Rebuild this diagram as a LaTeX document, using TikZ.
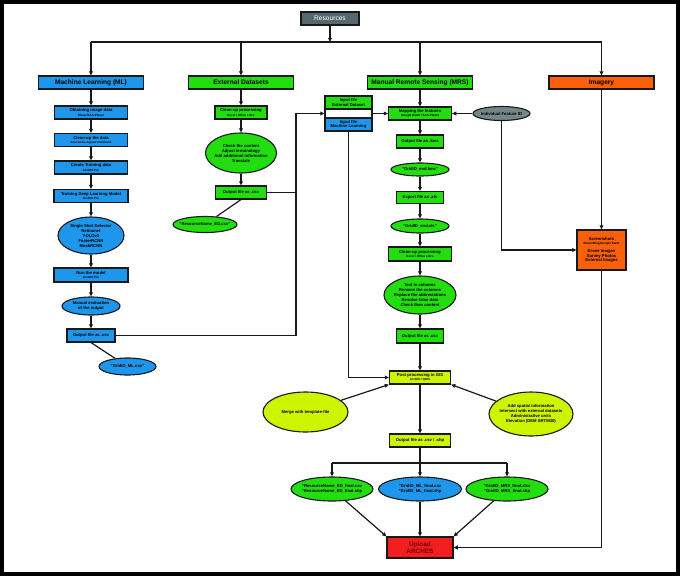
\documentclass[tikz,border=0pt]{standalone}
\usepackage{fontspec}
\setmainfont{Liberation Sans}
\usetikzlibrary{shapes.geometric,arrows.meta}
\definecolor{mlblue}{RGB}{30,150,235}
\definecolor{edgreen}{RGB}{35,222,15}
\definecolor{postyel}{RGB}{205,245,0}
\definecolor{imgorange}{RGB}{250,95,10}
\definecolor{upred}{RGB}{240,30,30}
\definecolor{upText}{RGB}{120,0,0}
\definecolor{resgray}{RGB}{85,105,108}
\definecolor{idgray}{RGB}{115,135,135}
\definecolor{linec}{RGB}{25,25,25}
\newcommand\subt[1]{\\[-0.6pt]{\fontsize{3}{3.4}\selectfont #1}}
\begin{document}
\begin{tikzpicture}[x=1pt,y=-1pt,
  base/.style={draw=linec,line width=1.1pt,inner sep=0pt,align=center,text=black},
  hdr/.style={base,rectangle,minimum width=105pt,minimum height=13pt,font=\fontsize{6.6}{7.5}\selectfont\bfseries},
  sbox/.style={base,rectangle,minimum height=13pt,font=\fontsize{4.2}{4.8}\selectfont\bfseries},
  ell/.style={base,ellipse},
  etxt/.style={inner sep=0pt,align=center,font=\fontsize{4.2}{5}\selectfont\bfseries},
  conn/.style={draw=linec,line width=1.2pt},
  arr/.style={conn,-{Triangle[length=4.2pt,width=3.8pt]}}]
\fill[black] (0,0) rectangle (680,576);
\fill[white] (4,4) rectangle (676,572);
\useasboundingbox (0,0) rectangle (680,576);

% headers
\node[base,fill=resgray,minimum width=58pt,minimum height=13pt,text=white,font=\fontsize{6.6}{7}\selectfont] (res) at (330,18.5) {Resources};
\node[hdr,fill=mlblue] (ml) at (91,82.5) {Machine Learning (ML)};
\node[hdr,fill=edgreen] (ed) at (241,82.5) {External Datasets};
\node[hdr,fill=edgreen] (mrs) at (420,82.5) {Manual Remote Sensing (MRS)};
\node[hdr,fill=imgorange] (img) at (601.5,82.5) {Imagery};

\coordinate (bus) at (330,42);
\coordinate (bML) at (91,42);
\coordinate (bED) at (241,42);
\coordinate (bMRS) at (420,42);
\coordinate (bIMG) at (601.5,42);
\draw[arr] (res) -- (bus);
\draw[conn] (bML) -- (bIMG);
\draw[arr] (bML) -- (ml);
\draw[arr] (bED) -- (ed);
\draw[arr] (bMRS) -- (mrs);
\draw[arr] (bIMG) -- (img);

% ML column
\node[sbox,fill=mlblue,minimum width=73pt] (mlA) at (91,112.5) {Obtaining image data\subt{Maxar/SAS-Planet}};
\node[sbox,fill=mlblue,minimum width=73pt] (mlB) at (91,140) {Clean-up the data\subt{Anaconda-Jupyter Notebook}};
\node[sbox,fill=mlblue,minimum width=73pt] (mlC) at (91,167.5) {Create Training data\subt{ArcGIS Pro}};
\node[sbox,fill=mlblue,minimum width=74pt] (mlD) at (91,196) {Training Deep Learning Model\subt{ArcGIS Pro}};
\node[ell,fill=mlblue,minimum width=66pt,minimum height=37pt] (mlE) at (91,235.5) {};
\node[etxt] at (mlE) {Single Shot Detector\\Retinanet\\YOLOv3\\FasterRCNN\\MaskRCNN};
\node[sbox,fill=mlblue,minimum width=74pt,minimum height=14pt] (mlF) at (91,275) {Run the model\subt{ArcGIS Pro}};
\node[ell,fill=mlblue,minimum width=58pt,minimum height=18pt] (mlG) at (91,306) {};
\node[etxt] at (mlG) {Manual evaluation\\of the output};
\node[sbox,fill=mlblue,minimum width=48pt] (mlH) at (91,335.5) {Output file as .csv};
\node[ell,fill=mlblue,minimum width=57pt,minimum height=17pt] (mlI) at (127.5,366.5) {};
\node[etxt] at (mlI) {"GridID\_ML.csv"};
\draw[arr] (ml) -- (mlA);
\draw[arr] (mlA) -- (mlB);
\draw[arr] (mlB) -- (mlC);
\draw[arr] (mlC) -- (mlD);
\draw[arr] (mlD) -- (mlE);
\draw[arr] (mlE) -- (mlF);
\draw[arr] (mlF) -- (mlG);
\draw[arr] (mlG) -- (mlH);
\draw[conn] (mlH.south) -- (mlI);

% ED column
\node[sbox,fill=edgreen,minimum width=52pt] (edA) at (241,112.5) {Clean-up processing\subt{Excel / Office Libre}};
\node[ell,fill=edgreen,minimum width=71pt,minimum height=40pt] (edB) at (241,153) {};
\node[etxt] at (edB) {Check the content\\Adjust terminology\\Add additional information\\Translate};
\node[sbox,fill=edgreen,minimum width=51pt] (edC) at (241,192.5) {Output file as .csv};
\node[ell,fill=edgreen,minimum width=64pt,minimum height=16pt] (edD) at (205,224.5) {};
\node[etxt] at (edD) {"ResourceName\_ED.csv"};
\draw[arr] (ed) -- (edA);
\draw[arr] (edA) -- (edB);
\draw[arr] (edB) -- (edC);
\draw[conn] (edC.south) -- (edD);

% input stack
\node[sbox,fill=edgreen,minimum width=47pt] (inED) at (348.5,102.5) {Input file\\External Dataset};
\node[base,rectangle,fill=white,minimum width=47pt,minimum height=9pt] (inGap) at (348.5,113.5) {};
\node[sbox,fill=mlblue,minimum width=47pt] (inML) at (348.5,124.5) {Input file\\Machine Learning};
\coordinate (jTop) at (296,113.5);
\draw[arr] (mlH.east) -| (jTop) -- (inGap.west);
\draw[conn] (edC.east) -- (edC.east -| jTop);

% MRS column
\node[sbox,fill=edgreen,minimum width=63pt] (mrA) at (420,113.5) {Mapping the features\subt{Google Earth / SAS-Planet}};
\node[ell,fill=idgray,minimum width=57pt,minimum height=14pt] (ifid) at (501.5,113.5) {};
\node[etxt] at (ifid) {Individual Feature ID};
\node[sbox,fill=edgreen,minimum width=47pt] (mrB) at (420,141.5) {Output file as .kmz};
\node[ell,fill=edgreen,minimum width=58pt,minimum height=13pt] (mrC) at (420,169.5) {};
\node[etxt] at (mrC) {"GridID\_end.kmz"};
\node[sbox,fill=edgreen,minimum width=47pt,minimum height=12pt] (mrD) at (420,197.5) {Export file as .xls};
\node[ell,fill=edgreen,minimum width=58pt,minimum height=14pt] (mrE) at (420,226) {};
\node[etxt] at (mrE) {"GridID\_end.xls"};
\node[sbox,fill=edgreen,minimum width=63pt,minimum height=14pt] (mrF) at (420,254) {Clean-up processing\subt{Excel / Office Libre}};
\node[ell,fill=edgreen,minimum width=72pt,minimum height=38pt] (mrG) at (420,295) {};
\node[etxt] at (mrG) {Text in columns\\Rename the columns\\Replace the abbreviations\\Resolve false data\\Check then content};
\node[sbox,fill=edgreen,minimum width=47pt,minimum height=14pt] (mrH) at (420,336) {Output file as .csv};
\draw[arr] (mrs) -- (mrA);
\draw[arr] (inGap) -- (mrA);
\draw[arr] (ifid) -- (mrA);
\draw[arr] (mrA) -- (mrB);
\draw[arr] (mrB) -- (mrC);
\draw[arr] (mrC) -- (mrD);
\draw[arr] (mrD) -- (mrE);
\draw[arr] (mrE) -- (mrF);
\draw[arr] (mrF) -- (mrG);
\draw[arr] (mrG) -- (mrH);

% post-processing
\node[sbox,fill=postyel,minimum width=61pt] (post) at (420,377.5) {Post-processing in GIS\subt{ArcGIS / QGIS}};
\node[ell,fill=postyel,minimum width=85pt,minimum height=40pt] (merge) at (305.5,412) {};
\node[etxt] at (merge) {Merge with template-file};
\node[ell,fill=postyel,minimum width=84pt,minimum height=44pt] (spat) at (531,414) {};
\node[etxt] at (spat) {Add spatial information\\Intersect with external datasets\\Administrative units\\Elevation (DEM SRTM30)};
\node[sbox,fill=postyel,minimum width=61pt] (outS) at (420,440.5) {Output file as .csv / .shp};
\draw[arr] (mrH) -- (post);
\draw[arr] (inML.south) |- (post.west);
\draw[arr] (merge) -- (post.south west);
\draw[arr] (spat) -- (post.south east);
\draw[arr] (post) -- (outS);

% finals
\node[ell,fill=edgreen,minimum width=82pt,minimum height=24pt] (fED) at (332,489) {};
\node[etxt] at (fED) {"ResourceName\_ED\_final.csv\\"ResourceName\_ED\_final.shp};
\node[ell,fill=mlblue,minimum width=83pt,minimum height=24pt] (fML) at (420,489) {};
\node[etxt] at (fML) {"GridID\_ML\_final.csv\\"GridID\_ML\_final.shp};
\node[ell,fill=edgreen,minimum width=82pt,minimum height=24pt] (fMRS) at (507,489) {};
\node[etxt] at (fMRS) {"GridID\_MRS\_final.xlsx\\"GridID\_MRS\_final.shp};
\coordinate (b2) at (420,463);
\coordinate (b2L) at (332,463);
\coordinate (b2R) at (507,463);
\draw[conn] (outS) -- (b2);
\draw[conn] (b2L) -- (b2R);
\draw[arr] (b2L) -- (fED);
\draw[arr] (b2) -- (fML);
\draw[arr] (b2R) -- (fMRS);

\node[base,rectangle,fill=upred,minimum width=66pt,minimum height=21pt,text=upText,font=\fontsize{6.4}{7}\selectfont\bfseries] (up) at (420,547.5) {Upload\\ARCHES};
\draw[arr] (fED) -- (up.north west);
\draw[arr] (fML) -- (up);
\draw[arr] (fMRS) -- (up.north east);

% imagery
\node[sbox,fill=imgorange,minimum width=49pt,minimum height=40pt] (shots) at (601.5,250) {Screenshots\subt{Maxar/Bing/Google Earth}\\[3pt]Drone Images\\Survey Photos\\External Images};
\draw[arr] (img) -- (shots);
\draw[arr] (ifid.south) |- (shots.west);
\draw[arr] (shots.south) |- (up.east);
\end{tikzpicture}
\end{document}
